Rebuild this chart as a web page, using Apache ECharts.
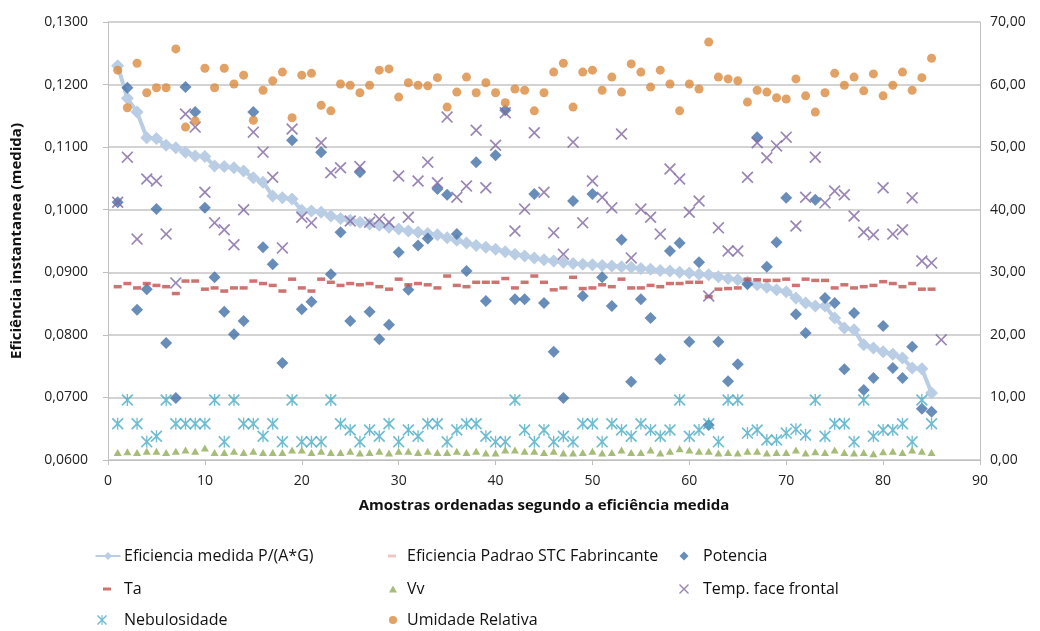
<!DOCTYPE html>
<html>
<head>
<meta charset="utf-8">
<script src="https://cdn.jsdelivr.net/npm/echarts@6/dist/echarts.min.js"></script>
<style>
  html, body { margin: 0; padding: 0; background: #fff; }
  #chart { width: 1040px; height: 631px; }
</style>
</head>
<body>
<div id="chart"></div>
<script>
// valores (amostra 1..85)
const eficiencia = [0.1230,0.1178,0.1156,0.1115,0.1114,0.1103,0.1099,0.1092,0.1086,0.1085,
  0.1070,0.1069,0.1067,0.1062,0.1051,0.1044,0.1022,0.1019,0.1017,0.0999,
  0.0998,0.0996,0.0990,0.0986,0.0983,0.0980,0.0977,0.0975,0.0972,0.0969,
  0.0966,0.0964,0.0962,0.0960,0.0955,0.0951,0.0947,0.0943,0.0940,0.0937,
  0.0933,0.0929,0.0926,0.0923,0.0920,0.0918,0.0916,0.0914,0.0913,0.0912,
  0.0911,0.0910,0.0909,0.0908,0.0906,0.0905,0.0903,0.0902,0.0900,0.0899,
  0.0897,0.0896,0.0893,0.0890,0.0888,0.0884,0.0880,0.0876,0.0872,0.0869,
  0.0859,0.0851,0.0846,0.0846,0.0827,0.0811,0.0808,0.0784,0.0779,0.0773,
  0.0769,0.0763,0.0747,0.0746,0.0707];
const eficienciaPadrao = []; // fora da escala, so aparece na legenda
const potencia = [41.2,59.5,24.0,27.3,40.1,18.7,9.9,59.6,55.6,40.3,
  29.2,23.7,20.1,22.2,55.6,34.0,31.3,15.5,51.1,24.1,
  25.3,49.2,29.7,36.4,22.2,46.0,23.7,19.3,21.6,33.2,
  27.2,34.3,35.4,43.3,42.4,36.1,30.2,47.6,25.4,48.7,
  55.9,25.7,25.7,42.5,25.1,17.3,9.9,41.4,26.2,42.5,
  29.2,24.6,35.2,12.5,25.7,22.7,16.1,33.4,34.7,18.9,
  31.6,5.6,18.9,12.6,15.3,28.1,51.6,30.9,34.8,41.9,
  23.3,20.3,41.6,25.9,25.1,14.5,23.5,11.2,13.1,21.4,
  14.7,13.1,18.1,8.2,7.7];
const ta = [27.7,28.2,27.5,28.2,27.9,27.7,26.6,28.6,28.6,27.3,
  27.5,27.0,27.5,27.5,28.6,28.2,27.9,27.0,28.9,27.5,
  27.0,28.9,28.4,27.9,28.2,28.0,28.2,27.7,27.3,28.9,
  28.0,28.2,28.0,27.5,29.4,27.9,27.7,28.4,28.4,28.4,
  29.0,27.5,28.4,29.4,28.4,27.2,27.5,29.2,27.4,27.5,
  28.0,27.7,28.9,27.5,27.5,27.9,27.7,28.2,28.2,28.4,
  28.4,26.1,27.3,27.4,27.5,28.9,28.8,28.7,28.7,28.9,
  27.9,28.9,28.7,28.7,27.5,28.0,27.5,27.7,27.9,28.5,
  28.2,27.7,28.2,27.3,27.3];
const vv = [1.2,1.3,1.2,1.4,1.4,1.2,1.4,1.6,1.4,1.9,
  1.2,1.2,1.4,1.2,1.4,1.2,1.2,1.2,1.6,1.6,
  1.2,1.4,1.2,1.2,1.4,1.1,1.2,1.4,1.1,1.4,
  1.4,1.2,1.4,1.2,1.2,1.4,1.2,1.4,1.1,1.1,
  1.6,1.6,1.4,1.4,1.2,1.4,1.1,1.1,1.2,1.4,
  1.1,1.2,1.6,1.2,1.2,1.6,1.1,1.4,1.8,1.6,
  1.4,1.4,1.1,1.2,1.1,1.4,1.4,1.1,1.2,1.2,
  1.6,1.1,1.3,1.2,1.6,1.2,1.1,1.2,1.0,1.3,
  1.4,1.2,1.6,1.4,1.2];
// temperatura tem uma amostra a mais (86)
const tempFace = [41.2,48.4,35.3,44.9,44.6,36.1,28.3,55.3,53.2,42.8,
  37.9,36.8,34.4,40.0,52.4,49.2,45.2,33.9,52.9,38.8,
  37.9,50.7,45.9,46.7,38.2,46.9,38.0,38.5,38.0,45.4,
  38.8,44.6,47.6,44.3,54.8,42.0,43.8,52.7,43.5,50.3,
  55.5,36.6,40.1,52.3,42.8,36.3,32.9,50.8,37.9,44.6,
  42.0,40.3,52.1,32.3,40.1,38.8,36.1,46.5,44.9,39.6,
  41.4,26.2,37.1,33.4,33.4,45.2,50.7,48.3,50.2,51.6,
  37.4,42.0,48.4,41.1,43.0,42.4,39.0,36.4,36.0,43.5,
  36.1,36.8,41.9,31.8,31.5,19.2];
const nebulosidade = [5.8,9.6,5.8,2.9,3.8,9.6,5.8,5.8,5.8,5.8,
  9.6,2.9,9.6,5.8,5.8,3.8,5.8,2.9,9.6,2.9,
  2.9,2.9,9.6,5.8,4.8,2.9,4.8,3.8,5.8,2.9,
  4.8,3.8,5.8,5.8,2.9,4.8,5.8,5.8,3.8,2.9,
  2.9,9.6,4.8,2.9,4.8,2.9,3.8,2.9,5.8,5.8,
  2.9,5.8,4.8,3.8,5.8,4.8,3.8,4.8,9.6,3.8,
  4.8,5.8,2.9,9.6,9.6,4.3,4.8,3.2,3.2,4.3,
  4.9,4.0,9.6,3.8,5.8,5.8,2.9,9.6,3.8,4.8,
  4.8,5.8,2.9,9.6,5.8];
const umidade = [62.3,56.3,63.4,58.7,59.5,59.5,65.7,53.2,54.2,62.6,
  59.5,62.6,60.1,61.5,54.3,59.1,60.6,62.0,54.7,61.5,
  61.8,56.7,55.8,60.1,59.9,58.7,59.9,62.3,62.5,58.0,
  60.3,59.9,59.8,61.1,56.4,58.8,61.2,58.7,60.3,58.7,
  57.1,59.3,59.1,55.8,58.7,62.0,63.4,56.4,62.0,62.3,
  59.1,61.2,58.8,63.3,62.0,59.6,62.3,60.1,55.8,60.1,
  59.3,66.8,61.2,60.9,60.6,57.2,59.1,58.8,57.9,57.7,
  60.9,58.2,55.6,58.7,61.8,59.9,61.2,59.0,61.7,58.2,
  59.9,62.0,59.1,61.1,64.2];

const FONT = '"Open Sans", "Liberation Sans", sans-serif';
const X_PATH = 'path://M0,1L1,0L5,4L9,0L10,1L6,5L10,9L9,10L5,6L1,10L0,9L4,5Z';
const STAR_PATH = 'path://M0,1L1,0L5,4L9,0L10,1L6,5L10,9L9,10L5,6L1,10L0,9L4,5Z M4.45,0L5.55,0L5.55,10L4.45,10Z';

const pairs = arr => arr.map((v, i) => [i + 1, v]);
const comma = d => v => v.toFixed(d).replace('.', ',');

function legendItem(name, iconCx, cy, w, h, textX) {
  const left = iconCx - w / 2;
  return {
    data: [name],
    left: left,
    top: cy - 10,
    padding: 0,
    itemWidth: w,
    itemHeight: h,
    selectedMode: false,
    textStyle: {
      fontFamily: FONT, fontSize: 16, color: '#111', lineHeight: 20,
      padding: [0, 0, 0, textX - (left + w + 5)]
    }
  };
}

const chart = echarts.init(document.getElementById('chart'));
chart.setOption({
  backgroundColor: '#fff',
  animation: false,
  grid: { left: 108, right: 60, top: 22, bottom: 171 },
  legend: [
    legendItem('Eficiencia medida P/(A*G)', 107, 556, 25, 10, 123),
    legendItem('Ta', 107, 589, 8, 3, 124),
    legendItem('Nebulosidade', 102, 620, 10, 10, 124),
    legendItem('Eficiencia Padrao STC Fabrincante', 392, 556, 8, 3, 407),
    legendItem('Vv', 393, 589, 8, 7, 407),
    legendItem('Umidade Relativa', 393, 620, 8, 8, 407),
    legendItem('Potencia', 684, 556, 9, 9, 703),
    legendItem('Temp. face frontal', 684, 589, 10, 10, 703)
  ],
  xAxis: {
    type: 'value', min: 0, max: 90, interval: 10,
    name: 'Amostras ordenadas segundo a eficiência medida',
    nameLocation: 'middle', nameGap: 38,
    nameTextStyle: { fontFamily: FONT, fontSize: 15, fontWeight: 'bold', color: '#111' },
    axisLine: { lineStyle: { color: '#bfbfbf', width: 1 } },
    axisTick: { show: true, length: 5, lineStyle: { color: '#bfbfbf' } },
    axisLabel: { fontFamily: FONT, fontSize: 14, color: '#222', margin: 14 },
    splitLine: { show: false }
  },
  yAxis: [
    {
      type: 'value', min: 0.06, max: 0.13, interval: 0.01,
      name: 'Eficiência instantanea (medida)',
      nameLocation: 'middle', nameGap: 84, nameRotate: 90,
      nameTextStyle: { fontFamily: FONT, fontSize: 15, fontWeight: 'bold', color: '#111' },
      axisLine: { show: true, lineStyle: { color: '#bfbfbf' } },
      axisTick: { show: true, length: 5, lineStyle: { color: '#bfbfbf' } },
      axisLabel: { fontFamily: FONT, fontSize: 14, color: '#222', margin: 20, formatter: comma(4) },
      splitLine: { show: true, lineStyle: { color: '#c4c4c4', width: 1.5 } }
    },
    {
      type: 'value', min: 0, max: 70, interval: 10, position: 'right',
      axisLine: { show: true, lineStyle: { color: '#bfbfbf' } },
      axisTick: { show: false },
      axisLabel: { fontFamily: FONT, fontSize: 14, color: '#222', margin: 10, formatter: comma(2) },
      splitLine: { show: false }
    }
  ],
  series: [
    {
      name: 'Eficiencia medida P/(A*G)', type: 'line', yAxisIndex: 0,
      data: pairs(eficiencia),
      symbol: 'diamond', symbolSize: 13,
      itemStyle: { color: '#b9cde4' },
      lineStyle: { color: '#b9cde4', width: 4 },
      z: 2
    },
    {
      name: 'Eficiencia Padrao STC Fabrincante', type: 'scatter', yAxisIndex: 0,
      data: pairs(eficienciaPadrao),
      symbol: 'rect', symbolSize: [8, 3],
      itemStyle: { color: '#e6b9b8' }
    },
    {
      name: 'Potencia', type: 'scatter', yAxisIndex: 1,
      data: pairs(potencia),
      symbol: 'diamond', symbolSize: 12,
      itemStyle: { color: '#4271a8' }, z: 3
    },
    {
      name: 'Ta', type: 'scatter', yAxisIndex: 1,
      data: pairs(ta),
      symbol: 'rect', symbolSize: [8, 3.5],
      itemStyle: { color: '#c0504d' }, z: 3
    },
    {
      name: 'Vv', type: 'scatter', yAxisIndex: 1,
      data: pairs(vv),
      symbol: 'triangle', symbolSize: [8, 7],
      itemStyle: { color: '#8fad55' }, z: 3
    },
    {
      name: 'Temp. face frontal', type: 'scatter', yAxisIndex: 1,
      data: pairs(tempFace),
      symbol: X_PATH, symbolSize: 12,
      itemStyle: { color: '#8168a3' }, z: 4
    },
    {
      name: 'Nebulosidade', type: 'scatter', yAxisIndex: 1,
      data: pairs(nebulosidade),
      symbol: STAR_PATH, symbolSize: 12,
      itemStyle: { color: '#4bacc6' }, z: 4
    },
    {
      name: 'Umidade Relativa', type: 'scatter', yAxisIndex: 1,
      data: pairs(umidade),
      symbol: 'circle', symbolSize: 9,
      itemStyle: { color: '#db8a3e' }, z: 4
    }
  ]
});
</script>
</body>
</html>
